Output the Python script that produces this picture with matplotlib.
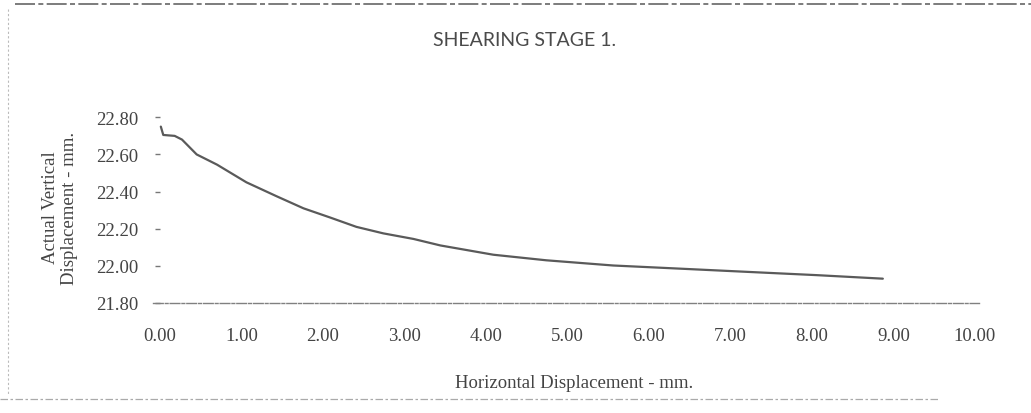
import matplotlib
matplotlib.use("Agg")
import matplotlib.pyplot as plt
from matplotlib.lines import Line2D

# Data
horiz_disp = [0.01, 0.04, 0.18, 0.27, 0.45, 0.70, 1.06, 1.43, 1.76, 2.09, 2.41,
              2.74, 3.11, 3.44, 4.09, 4.74, 5.56, 6.38, 7.24, 8.06, 8.87]
vert_disp = [22.75, 22.705, 22.70, 22.68, 22.60, 22.545, 22.45, 22.375, 22.31,
             22.26, 22.21, 22.175, 22.145, 22.11, 22.06, 22.03, 22.002, 21.985,
             21.967, 21.95, 21.931]
x_ticks = [0, 1, 2, 3, 4, 5, 6, 7, 8, 9, 10]
y_ticks = [21.80, 22.00, 22.20, 22.40, 22.60, 22.80]
title = "SHEARING STAGE 1."
x_label = "Horizontal Displacement - mm."
y_label = "Actual Vertical\nDisplacement - mm."

W, H = 1031, 414
fig = plt.figure(figsize=(W / 100, H / 100), dpi=100)
fig.patch.set_facecolor("white")

serif = ["Liberation Serif", "DejaVu Serif"]

ax = fig.add_axes([153 / W, 1 - 304 / H, (979 - 153) / W, (304 - 114.6) / H])
ax.plot(horiz_disp, vert_disp, color="#5a5a5a", lw=1.6, solid_capstyle="round")
ax.set_xlim(-0.086, 10.05)
ax.set_ylim(21.80, 22.82)

for s in ["top", "right", "left"]:
    ax.spines[s].set_visible(False)
ax.spines["left"].set_position(("data", 0))
ax.spines["bottom"].set_color("#808080")
ax.spines["bottom"].set_linewidth(1.0)
ax.spines["bottom"].set_linestyle((0, (7, 1.5, 2, 1.5)))

ax.set_xticks(x_ticks)
ax.set_xticklabels([f"{v:.2f}" for v in x_ticks], fontfamily=serif, fontsize=13.5, color="#444444")
ax.set_yticks(y_ticks)
ax.set_yticklabels([f"{v:.2f}" for v in y_ticks], fontfamily=serif, fontsize=13.5, color="#444444")
ax.tick_params(axis="x", length=0, pad=17)
ax.tick_params(axis="y", length=3.5, width=1, color="#777777", pad=12)

fig.text(574 / W, 1 - 384 / H, x_label, ha="center", va="center",
         fontfamily=serif, fontsize=13.5, color="#444444")
fig.text(60 / W, 1 - 208 / H, y_label, ha="center", va="center", rotation=90,
         fontfamily=serif, fontsize=13.5, color="#444444", linespacing=1.15)
fig.text(525 / W, 1 - 41 / H, title, ha="center", va="center",
         fontfamily=["Lato", "DejaVu Sans"], fontsize=14, color="#4a4a4a")

# scan border remnants
fig.add_artist(Line2D([15 / W, 1.0], [1 - 5 / H, 1 - 5 / H], color="#666666", lw=1.2,
                      linestyle=(0, (12, 2, 3, 2))))
fig.add_artist(Line2D([8 / W, 8 / W], [1 - 10 / H, 1 - 395 / H], color="#bbbbbb", lw=0.8,
                      linestyle=(0, (2, 2))))
fig.add_artist(Line2D([0, 940 / W], [1 - 400 / H, 1 - 400 / H], color="#aaaaaa", lw=0.9,
                      linestyle=(0, (6, 2, 2, 2))))

fig.savefig("out.png", dpi=100, facecolor="white")
